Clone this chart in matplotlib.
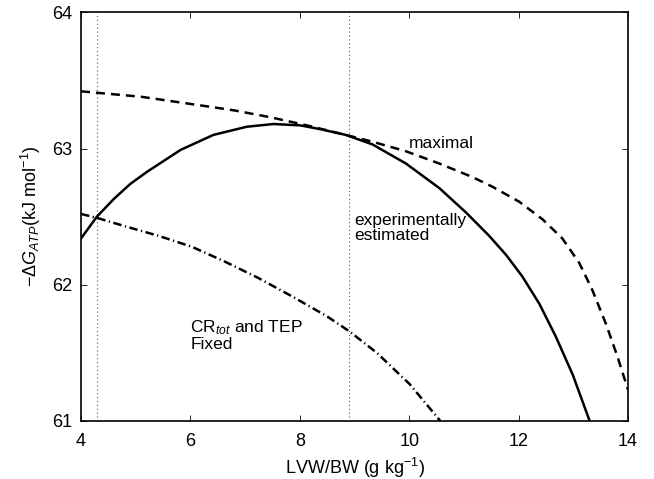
import matplotlib
matplotlib.use('Agg')
import matplotlib.pyplot as plt

plt.rcParams['font.family'] = ['Liberation Sans', 'DejaVu Sans']
plt.rcParams['mathtext.fontset'] = 'custom'
plt.rcParams['mathtext.rm'] = 'Liberation Sans'
plt.rcParams['mathtext.it'] = 'Liberation Sans:italic'
plt.rcParams['mathtext.bf'] = 'Liberation Sans:bold'

# "maximal" curve (dashed)
max_x = [4.0, 5.1, 6.3, 6.8, 7.46, 8.13, 8.84, 9.33, 9.94, 10.55, 11.16, 11.52,
         12.01, 12.44, 12.80, 13.11, 13.35, 13.60, 13.81, 14.0]
max_y = [63.42, 63.38, 63.31, 63.28, 63.23, 63.17, 63.10, 63.05, 62.98, 62.89, 62.79,
         62.72, 62.61, 62.48, 62.34, 62.16, 61.96, 61.71, 61.47, 61.23]

# "experimentally estimated" curve (solid)
exp_x = [4.0, 4.29, 4.60, 4.90, 5.21, 5.82, 6.42, 7.03, 7.52, 8.01, 8.40, 8.84,
         9.33, 9.94, 10.55, 11.04, 11.46, 11.77, 12.07, 12.38, 12.68, 12.99, 13.30]
exp_y = [62.34, 62.50, 62.63, 62.74, 62.83, 62.99, 63.10, 63.16, 63.18, 63.17, 63.14,
         63.10, 63.03, 62.89, 62.71, 62.53, 62.36, 62.22, 62.06, 61.86, 61.62, 61.34,
         61.0]

# CR_tot and TEP fixed (dash-dot)
fix_x = [4.0, 4.30, 4.80, 5.41, 6.02, 6.63, 7.24, 7.88, 8.49, 8.90, 9.41, 10.01, 10.57]
fix_y = [62.52, 62.49, 62.43, 62.36, 62.28, 62.17, 62.05, 61.91, 61.77, 61.66, 61.50,
         61.27, 61.0]

# vertical reference lines
vlines_x = [4.3, 8.9]

xticks = [4, 6, 8, 10, 12, 14]
yticks = [61, 62, 63, 64]

fig = plt.figure(figsize=(6.54, 4.79), dpi=100)
ax = fig.add_axes([0.1239, 0.1211, 0.8363, 0.8532])

for vx in vlines_x:
    ax.axvline(vx, color='0.35', lw=0.8, ls=(0, (1, 2.5)))

ax.plot(max_x, max_y, color='k', lw=1.8, ls=(0, (3.6, 2.4)))
ax.plot(exp_x, exp_y, color='k', lw=1.8, ls='-')
ax.plot(fix_x, fix_y, color='k', lw=1.8, ls=(0, (3.4, 1.4, 0.5, 1.4)))

ax.text(10.0, 63.04, 'maximal', fontsize=12.5, ha='left', va='center')
ax.text(9.0, 62.42, 'experimentally\nestimated', fontsize=12.5, ha='left', va='center',
        linespacing=1.0)
ax.text(6.0, 61.63, 'CR$_{\\it{tot}}$ and TEP\nFixed', fontsize=12.5, ha='left',
        va='center', linespacing=1.0)

ax.set_xlim(4, 14)
ax.set_ylim(61, 64)
ax.set_xticks(xticks)
ax.set_yticks(yticks)
ax.tick_params(direction='in', top=True, right=True, length=4, width=0.6,
               labelsize=13)
ax.tick_params(axis='x', pad=9)
ax.tick_params(axis='y', pad=6)
for sp in ax.spines.values():
    sp.set_linewidth(1.2)

ax.set_xlabel('LVW/BW (g kg$^{-1}$)', fontsize=13, labelpad=4)
ax.set_ylabel('$-\\Delta G_{ATP}$(kJ mol$^{-1}$)', fontsize=13, labelpad=7)

fig.savefig('out.png', dpi=100)
